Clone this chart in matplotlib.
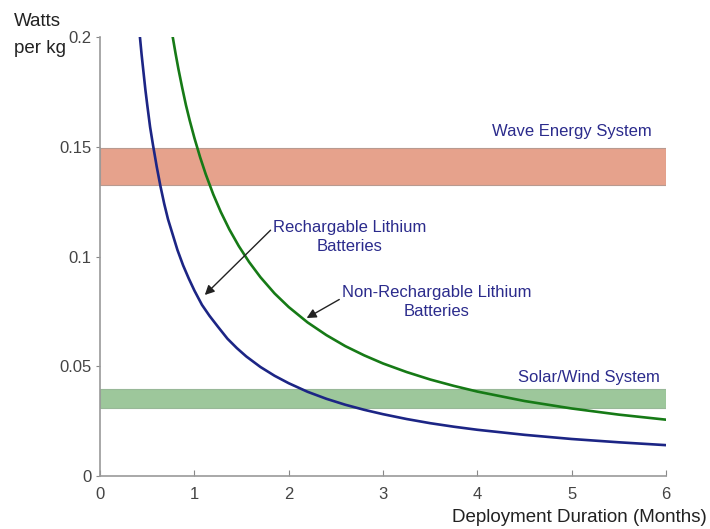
import matplotlib.pyplot as plt

plt.rcParams['font.family'] = ['Liberation Sans', 'DejaVu Sans']

# values
months = [0.42, 0.44, 0.46, 0.48, 0.5, 0.53, 0.56, 0.6, 0.64, 0.68, 0.72, 0.77, 0.82,
          0.88, 0.94, 1.0, 1.08, 1.16, 1.25, 1.35, 1.45, 1.55, 1.7, 1.85, 2.0, 2.2,
          2.4, 2.6, 2.8, 3.0, 3.25, 3.5, 3.75, 4.0, 4.5, 5.0, 5.5, 6.0]
rechargeable = [0.201, 0.192, 0.184, 0.176, 0.169, 0.159, 0.151, 0.141, 0.132, 0.124,
                0.117, 0.110, 0.103, 0.096, 0.090, 0.0845, 0.078, 0.073, 0.068, 0.0626,
                0.0583, 0.0545, 0.0497, 0.0457, 0.0423, 0.0384, 0.0352, 0.0325, 0.0302,
                0.0282, 0.026, 0.0241, 0.0225, 0.0211, 0.0188, 0.0169, 0.0154, 0.0141]

months_nr = [0.77, 0.8, 0.83, 0.87, 0.91, 0.95, 1.0, 1.06, 1.12, 1.2, 1.28, 1.37, 1.47,
             1.58, 1.7, 1.85, 2.0, 2.2, 2.4, 2.6, 2.8, 3.0, 3.25, 3.5, 3.75, 4.0, 4.5,
             5.0, 5.5, 6.0]
non_rechargeable = [0.2, 0.1925, 0.1855, 0.177, 0.169, 0.162, 0.154, 0.1453, 0.1375,
                    0.1283, 0.1203, 0.1124, 0.1048, 0.0975, 0.0906, 0.0832, 0.077, 0.07,
                    0.0642, 0.0592, 0.055, 0.0513, 0.0474, 0.044, 0.0411, 0.0385, 0.0342,
                    0.0308, 0.028, 0.0257]

wave_band = (0.1325, 0.1495)
solar_band = (0.0309, 0.0395)

navy = '#1c2585'
text_navy = '#2b2b8c'
green = '#167a16'

fig = plt.figure(figsize=(7.1, 5.29), dpi=100)
ax = fig.add_axes([0.141, 0.100, 0.797, 0.830])

ax.axhspan(wave_band[0], wave_band[1], xmin=0, xmax=1, facecolor='#e6a28c',
           edgecolor='#b89a90', linewidth=0.8, zorder=1)
ax.axhspan(solar_band[0], solar_band[1], xmin=0, xmax=1, facecolor='#9dc79b',
           edgecolor='#98b898', linewidth=0.8, zorder=1)

ax.plot(months, rechargeable, color=navy, linewidth=1.9, zorder=3)
ax.plot(months_nr, non_rechargeable, color=green, linewidth=1.9, zorder=3)

ax.set_xlim(0, 6)
ax.set_ylim(0, 0.2)
ax.set_xticks([0, 1, 2, 3, 4, 5, 6])
ax.set_yticks([0, 0.05, 0.1, 0.15, 0.2])
ax.set_yticklabels(['0', '0.05', '0.1', '0.15', '0.2'])

for s in ['top', 'right']:
    ax.spines[s].set_visible(False)
for s in ['left', 'bottom']:
    ax.spines[s].set_color('#999999')
    ax.spines[s].set_linewidth(1.2)
ax.tick_params(axis='x', direction='in', colors='#888888', labelcolor='#444444',
               labelsize=12, pad=8, length=4)
ax.tick_params(axis='y', direction='out', colors='#888888', labelcolor='#444444',
               labelsize=12, pad=3, length=3)

fig.text(0.02, 0.975, 'Watts', fontsize=13.5, color='#222222', va='top', ha='left')
fig.text(0.02, 0.925, 'per kg', fontsize=13.5, color='#222222', va='top', ha='left')
fig.text(0.995, 0.021, 'Deployment Duration (Months)', fontsize=13.5, color='#222222',
         ha='right', va='center')

ax.text(5.0, 0.157, 'Wave Energy System', color=text_navy, fontsize=12,
        ha='center', va='center')
ax.text(5.18, 0.0451, 'Solar/Wind System', color=text_navy, fontsize=12,
        ha='center', va='center')

ax.annotate('Rechargable Lithium\nBatteries', xy=(1.11, 0.0825), xytext=(2.65, 0.1089),
            color=text_navy, fontsize=12, ha='center', va='center', linespacing=1.35,
            arrowprops=dict(arrowstyle='-|>', color='#222222', lw=1,
                            mutation_scale=14, shrinkA=0, shrinkB=0,
                            relpos=(0.0, 0.78)))
ax.annotate('Non-Rechargable Lithium\nBatteries', xy=(2.19, 0.072), xytext=(3.57, 0.0793),
            color=text_navy, fontsize=12, ha='center', va='center', linespacing=1.35,
            arrowprops=dict(arrowstyle='-|>', color='#222222', lw=1,
                            mutation_scale=14, shrinkA=0, shrinkB=0,
                            relpos=(0.0, 0.62)))

fig.savefig('out.png', dpi=100)
